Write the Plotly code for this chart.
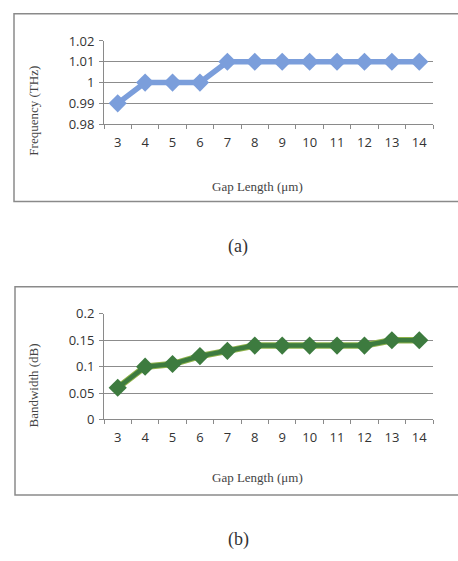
import plotly.graph_objects as go

gap_length = [3, 4, 5, 6, 7, 8, 9, 10, 11, 12, 13, 14]
frequency_thz = [0.99, 1.00, 1.00, 1.00, 1.01, 1.01, 1.01, 1.01, 1.01, 1.01, 1.01, 1.01]
bandwidth_db = [0.06, 0.10, 0.105, 0.12, 0.13, 0.14, 0.14, 0.14, 0.14, 0.14, 0.15, 0.15]
freq_ticks = [0.98, 0.99, 1.00, 1.01, 1.02]
freq_ticktext = ["0.98", "0.99", "1", "1.01", "1.02"]
bw_ticks = [0, 0.05, 0.1, 0.15, 0.2]
bw_ticktext = ["0", "0.05", "0.1", "0.15", "0.2"]

W, H = 458, 561
def px(x):
    return x / W
def py(y):
    return 1 - y / H

fig = go.Figure()

fig.add_trace(go.Scatter(
    x=gap_length, y=frequency_thz, mode="lines+markers",
    line=dict(color="#7b9edb", width=5.5),
    marker=dict(symbol="diamond", size=14, color="#7b9edb"),
    xaxis="x", yaxis="y", showlegend=False, hoverinfo="skip"))

fig.add_trace(go.Scatter(
    x=gap_length, y=bandwidth_db, mode="lines",
    line=dict(color="#8fb24a", width=6.5),
    xaxis="x2", yaxis="y2", showlegend=False, hoverinfo="skip"))
fig.add_trace(go.Scatter(
    x=gap_length, y=bandwidth_db, mode="lines+markers",
    line=dict(color="#3d7b3f", width=4.5),
    marker=dict(symbol="diamond", size=14, color="#3d7b3f"),
    xaxis="x2", yaxis="y2", showlegend=False, hoverinfo="skip"))

tickfont = dict(family="Open Sans, Liberation Sans, sans-serif", size=13, color="#333333")
serif = "Liberation Serif, Times New Roman, serif"

def xaxis_cfg(domain, anchor):
    return dict(domain=domain, anchor=anchor, range=[2.5, 14.5],
                tickmode="array", tickvals=gap_length, ticktext=[str(g) for g in gap_length],
                ticks="", showgrid=False, zeroline=False,
                showline=True, linecolor="#8a8a8a", linewidth=1,
                minor=dict(ticks="outside", tick0=2.5, dtick=1, ticklen=4,
                           tickcolor="#8a8a8a", showgrid=False),
                tickfont=tickfont, ticklabelstandoff=6, fixedrange=True)

def yaxis_cfg(domain, anchor, rng, tv, tt):
    return dict(domain=domain, anchor=anchor, range=rng,
                tickmode="array", tickvals=tv, ticktext=tt,
                ticks="outside", ticklen=4, tickcolor="#8a8a8a",
                showgrid=True, gridcolor="#8c8c8c", gridwidth=1,
                zeroline=False, showline=True, linecolor="#8a8a8a", linewidth=1,
                tickfont=tickfont, ticklabelstandoff=2, fixedrange=True)

def ann(text, x, y, size, angle=0, color="#444444"):
    return dict(text=text, xref="paper", yref="paper", x=px(x), y=py(y),
                xanchor="center", yanchor="middle", textangle=angle,
                showarrow=False, font=dict(family=serif, size=size, color=color))

fig.update_layout(
    width=W, height=H,
    margin=dict(l=0, r=0, t=0, b=0),
    paper_bgcolor="white", plot_bgcolor="white",
    hovermode=False,
    xaxis=xaxis_cfg([px(104), px(433)], "y"),
    yaxis=yaxis_cfg([py(119), py(33)], "x", [0.98, 1.02], freq_ticks, freq_ticktext),
    xaxis2=xaxis_cfg([px(104), px(433)], "y2"),
    yaxis2=yaxis_cfg([py(424), py(315)], "x2", [0, 0.2], bw_ticks, bw_ticktext),
    shapes=[
        dict(type="rect", xref="paper", yref="paper", x0=px(14), x1=px(470), y0=py(199), y1=py(5),
             line=dict(color="#8a8a8a", width=1.5), fillcolor="rgba(0,0,0,0)", layer="below"),
        dict(type="rect", xref="paper", yref="paper", x0=px(15), x1=px(470), y0=py(502), y1=py(287),
             line=dict(color="#8a8a8a", width=1.5), fillcolor="rgba(0,0,0,0)", layer="below"),
    ],
    annotations=[
        ann("Frequency (THz)", 34, 105, 13, -90),
        ann("Gap Length (μm)", 257, 183, 13),
        ann("(a)", 238, 245, 18, 0, "#333333"),
        ann("Bandwidth (dB)", 34, 389, 13, -90),
        ann("Gap Length (μm)", 257, 484, 13),
        ann("(b)", 238, 548, 18, 0, "#333333"),
    ],
)

fig.write_html("out.html", config={"displayModeBar": False, "staticPlot": True},
               post_script="document.body.style.margin='0';")
